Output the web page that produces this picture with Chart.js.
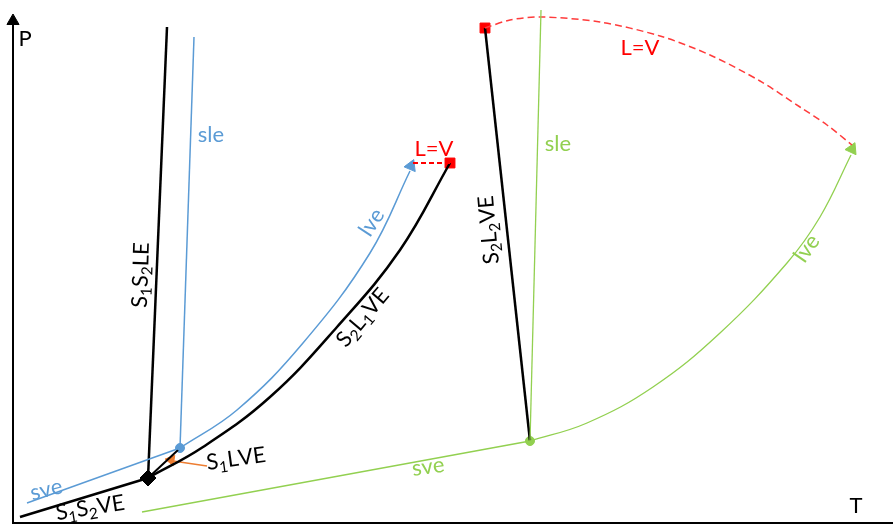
<!DOCTYPE html>
<html>
<head>
<meta charset="utf-8">
<script src="https://cdn.jsdelivr.net/npm/chart.js@4"></script>
<style>
  html, body { margin: 0; padding: 0; background: #fff; }
  #wrap { width: 893px; height: 529px; position: relative; }
</style>
</head>
<body>
<div id="wrap"><canvas id="diagram"></canvas></div>
<script>
// Schematic P-T diagram, T and P in arbitrary units
const axisT = [13, 13, 893];
const axisP = [507, 6, 6];

const s1s2leT = [148, 167];
const s1s2leP = [51, 502];
const sleBlueT = [180, 194];
const sleBlueP = [81, 492];
const s1s2veT = [20, 148];
const s1s2veP = [12, 51];
const sveBlueT = [27, 180];
const sveBlueP = [26, 81];
const s1lveT = [148, 178];
const s1lveP = [51, 79];
const lveBlueT = [180, 237, 303, 370, 410];
const lveBlueP = [81, 119, 186, 276, 358];
const s2l1veT = [148, 203, 270, 337, 400, 450];
const s2l1veP = [51, 82, 132, 202, 279, 366];
const critSmallT = [413, 450];
const critSmallP = [366, 366];

const s2l2veT = [485, 530];
const s2l2veP = [501, 88];
const critBigT = [485, 510, 541, 600, 660, 710, 760, 800, 827, 852];
const critBigP = [501, 509, 512, 507, 493, 474, 448, 422, 404, 384];
const sleGreenT = [530, 541];
const sleGreenP = [88, 519];
const sveGreenT = [142, 530];
const sveGreenP = [17, 88];
const lveGreenT = [530, 587, 653, 720, 787, 820, 851];
const lveGreenP = [88, 106, 142, 196, 266, 312, 374];

const pointerT = [207, 173];
const pointerP = [63, 68];

// text labels: digits after a letter are drawn as subscripts
const labels = [
  { text: "P", t: 25, p: 491, rot: 0, color: "#000" },
  { text: "T", t: 856, p: 24, rot: 0, color: "#000" },
  { text: "sle", t: 211, p: 395, rot: 0, color: "#5b9bd5" },
  { text: "S1S2LE", t: 140, p: 254, rot: -88, color: "#000" },
  { text: "lve", t: 371, p: 307, rot: -57, color: "#5b9bd5" },
  { text: "L=V", t: 434, p: 381, rot: 0, color: "#ff0000" },
  { text: "S2L1VE", t: 362, p: 212, rot: -50, color: "#000" },
  { text: "S1LVE", t: 236, p: 71, rot: -8, color: "#000" },
  { text: "sve", t: 46, p: 40, rot: -14, color: "#5b9bd5" },
  { text: "S1S2VE", t: 90, p: 22, rot: -9, color: "#000" },
  { text: "sve", t: 428, p: 63, rot: -8, color: "#92d050" },
  { text: "S2L2VE", t: 488, p: 299, rot: -95, color: "#000" },
  { text: "sle", t: 558, p: 386, rot: 0, color: "#92d050" },
  { text: "L=V", t: 640, p: 482, rot: 0, color: "#ff0000" },
  { text: "lve", t: 806, p: 281, rot: -55, color: "#92d050" }
];

function pts(ts, ps) {
  return ts.map((t, i) => ({ x: t, y: ps[i] }));
}

function curve(ts, ps, color, width, extra) {
  return Object.assign({
    data: pts(ts, ps),
    showLine: true,
    borderColor: color,
    borderWidth: width,
    pointRadius: 0,
    tension: 0,
    fill: false
  }, extra || {});
}

function marker(t, p, style, radius, color, rot) {
  return {
    data: [{ x: t, y: p }],
    showLine: false,
    pointStyle: style,
    pointRadius: radius,
    pointRotation: rot || 0,
    pointBackgroundColor: color,
    pointBorderColor: color,
    pointBorderWidth: 1
  };
}

const FONT = "Lato, 'Open Sans', sans-serif";

const labelPlugin = {
  id: "labels",
  afterDatasetsDraw(chart) {
    const ctx = chart.ctx;
    const xs = chart.scales.x, ys = chart.scales.y;
    const size = 22;
    labels.forEach(function (lb) {
      const runs = [];
      for (let i = 0; i < lb.text.length; i++) {
        const ch = lb.text[i];
        runs.push({ ch: ch, sub: /[0-9]/.test(ch) && i > 0 });
      }
      let w = 0;
      runs.forEach(function (r) {
        ctx.font = (r.sub ? size * 0.7 : size) + "px " + FONT;
        r.w = ctx.measureText(r.ch).width;
        w += r.w;
      });
      ctx.save();
      ctx.translate(xs.getPixelForValue(lb.t), ys.getPixelForValue(lb.p));
      ctx.rotate(lb.rot * Math.PI / 180);
      ctx.fillStyle = lb.color;
      ctx.textBaseline = "alphabetic";
      ctx.textAlign = "left";
      let x = -w / 2;
      runs.forEach(function (r) {
        ctx.font = (r.sub ? size * 0.7 : size) + "px " + FONT;
        ctx.fillText(r.ch, x, size * 0.36 + (r.sub ? size * 0.2 : 0));
        x += r.w;
      });
      ctx.restore();
    });
  }
};

var diagram = document.getElementById("diagram");

new Chart(diagram, {
  type: "scatter",
  data: {
    datasets: [
      curve(axisT, axisP, "#000", 2),
      curve(sveGreenT, sveGreenP, "#92d050", 1.3),
      curve(sleGreenT, sleGreenP, "#92d050", 1.3),
      curve(lveGreenT, lveGreenP, "#92d050", 1.3, { tension: 0.4 }),
      curve(critBigT, critBigP, "#ff3b3b", 1.5, { tension: 0.3, borderDash: [7, 4] }),
      curve(s2l2veT, s2l2veP, "#000", 2.5),
      curve(sveBlueT, sveBlueP, "#5b9bd5", 1.5),
      curve(sleBlueT, sleBlueP, "#5b9bd5", 1.5),
      curve(lveBlueT, lveBlueP, "#5b9bd5", 1.5, { tension: 0.4 }),
      curve(critSmallT, critSmallP, "#ff0000", 2, { borderDash: [5, 3] }),
      curve(s1s2leT, s1s2leP, "#000", 2.5),
      curve(s1s2veT, s1s2veP, "#000", 2.5),
      curve(s1lveT, s1lveP, "#000", 2),
      curve(s2l1veT, s2l1veP, "#000", 2.5, { tension: 0.4 }),
      curve(pointerT, pointerP, "#ed7d31", 1.5),
      marker(13, 508, "triangle", 7, "#000", 0),
      marker(411, 363, "triangle", 7, "#5b9bd5", 23),
      marker(852, 380, "triangle", 7, "#92d050", 25),
      marker(171, 69, "triangle", 6, "#ed7d31", -81),
      marker(148, 51, "rectRot", 8, "#000"),
      marker(180, 81, "circle", 4.5, "#5b9bd5"),
      marker(530, 88, "circle", 4.5, "#92d050"),
      marker(485, 501, "rect", 7, "#ff0000"),
      marker(450, 366, "rect", 7, "#ff0000")
    ]
  },
  options: {
    responsive: true,
    maintainAspectRatio: false,
    animation: false,
    events: [],
    layout: { padding: 0, autoPadding: false },
    plugins: {
      legend: { display: false },
      tooltip: { enabled: false }
    },
    scales: {
      x: { type: "linear", min: 0, max: 893, display: false },
      y: { type: "linear", min: 0, max: 529, display: false }
    }
  },
  plugins: [labelPlugin]
});
</script>
</body>
</html>
